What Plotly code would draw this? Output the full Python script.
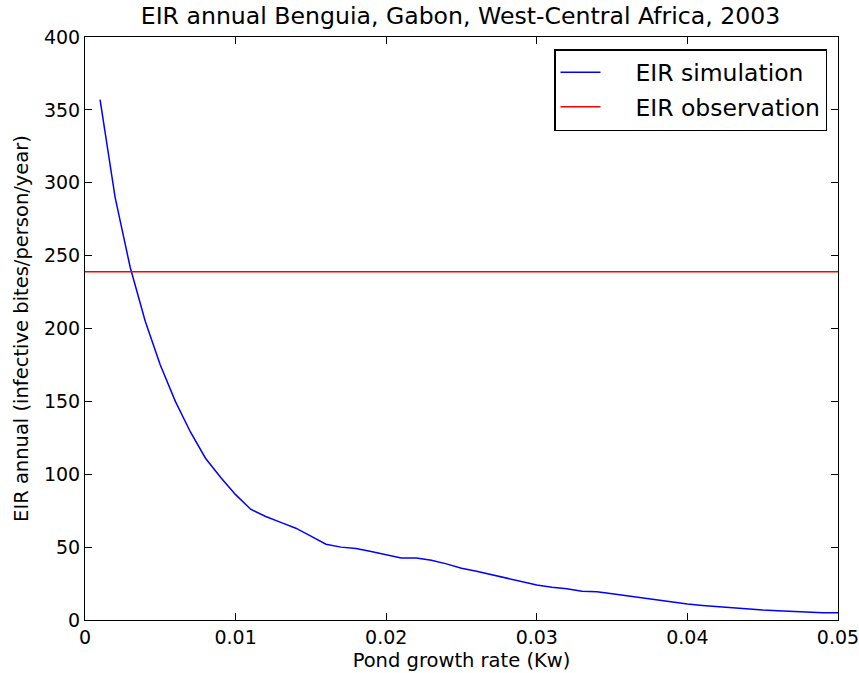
import plotly.graph_objects as go

kw = [0.001, 0.002, 0.003, 0.004, 0.005, 0.006, 0.007, 0.008, 0.009, 0.010,
      0.011, 0.012, 0.013, 0.014, 0.015, 0.016, 0.017, 0.018, 0.019, 0.020,
      0.021, 0.022, 0.023, 0.024, 0.025, 0.026, 0.027, 0.028, 0.029, 0.030,
      0.031, 0.032, 0.033, 0.034, 0.035, 0.036, 0.037, 0.038, 0.039, 0.040,
      0.041, 0.042, 0.043, 0.044, 0.045, 0.046, 0.047, 0.048, 0.049, 0.050]
eir_sim = [357, 290, 242, 205, 175, 150, 129, 111, 98, 86,
           76, 71, 67, 63, 57.5, 52, 50, 49, 47, 44.5,
           42.5, 42.5, 41, 38.5, 35.5, 33.5, 31, 28.5, 26, 24,
           22.5, 21.5, 19.8, 19.4, 18, 16.5, 15, 13.6, 12.3, 11,
           10, 9.1, 8.3, 7.5, 6.8, 6.3, 5.8, 5.3, 5.0, 4.9]
eir_obs = 239
x_range = [0, 0.05]
x_ticks = [0, 0.01, 0.02, 0.03, 0.04, 0.05]
x_ticktext = ["0", "0.01", "0.02", "0.03", "0.04", "0.05"]
y_ticks = [0, 50, 100, 150, 200, 250, 300, 350, 400]

NB = "\u00a0"
fig = go.Figure()
fig.add_trace(go.Scatter(x=kw, y=eir_sim, mode="lines", name=NB * 4 + "EIR simulation",
                         legendgroup="a", line=dict(color="#0000ff", width=1.5)))
fig.add_trace(go.Scatter(x=x_range, y=[eir_obs, eir_obs], mode="lines",
                         name=NB * 4 + "EIR observation", legendgroup="b",
                         line=dict(color="#ff0000", width=1.5)))

axis_common = dict(showgrid=False, zeroline=False, showline=True, linecolor="black",
                   linewidth=1, mirror="ticks", ticks="inside", ticklen=7, tickwidth=1,
                   tickcolor="black", tickfont=dict(size=19, color="black"),
                   automargin=False, ticklabeloverflow="allow")

fig.update_layout(
    width=859, height=673,
    margin=dict(l=85, r=21, t=37, b=53),
    paper_bgcolor="white", plot_bgcolor="white",
    font=dict(family="DejaVu Sans", color="black"),
    title=dict(text="EIR annual Benguia, Gabon, West-Central Africa, 2003",
               x=(139 + 782) / 2 / 859, xanchor="center", xref="container",
               y=1 - 16 / 673, yanchor="middle", yref="container",
               font=dict(size=23.6, color="black")),
    xaxis=dict(range=x_range, tickvals=x_ticks, ticktext=x_ticktext,
               title=dict(text="Pond growth rate (Kw)", font=dict(size=19.5), standoff=6),
               **axis_common),
    yaxis=dict(range=[0, 400], tickvals=y_ticks,
               title=dict(text="EIR annual (infective bites/person/year)", font=dict(size=19.5), standoff=10),
               **axis_common),
    legend=dict(x=(827 - 85) / (838 - 85), y=1 - 12 / 583, xanchor="right", yanchor="top",
                bordercolor="black", borderwidth=1.5, bgcolor="white",
                font=dict(size=23.5, color="black"), itemwidth=40, tracegroupgap=1),
    showlegend=True,
)

fig.write_html("out.html")
